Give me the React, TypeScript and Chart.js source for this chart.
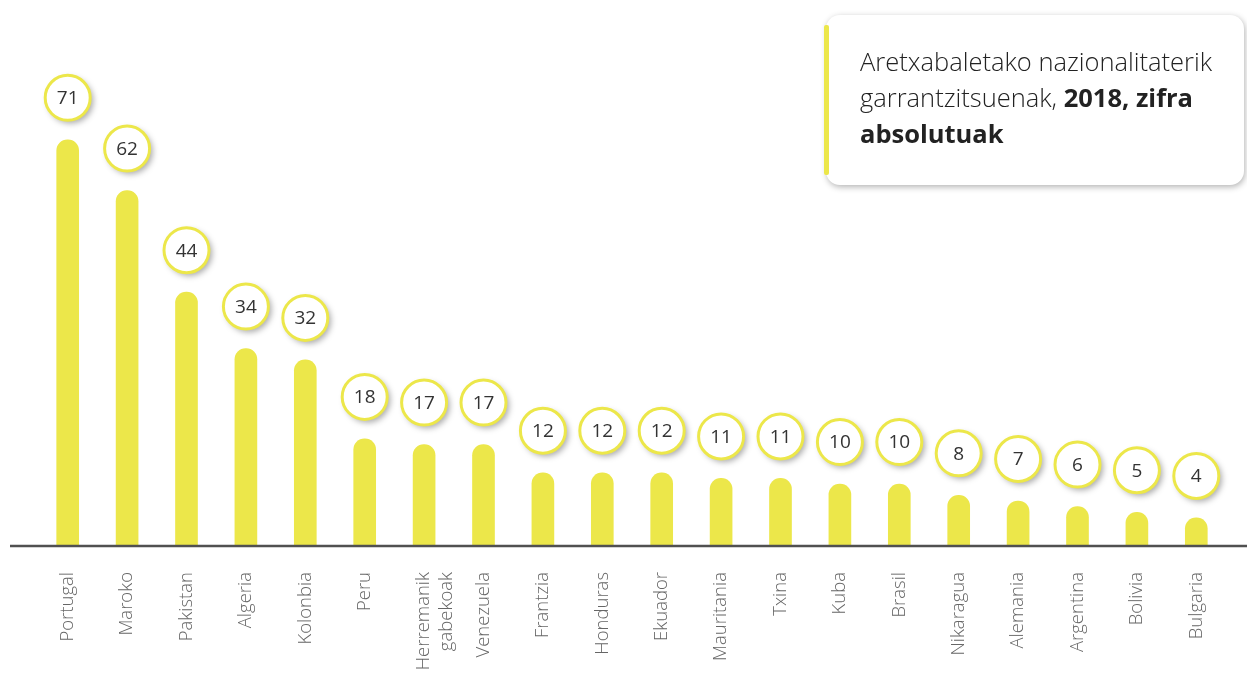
import React, { useEffect, useRef } from 'react';
import { Chart, registerables } from 'chart.js';

Chart.register(...registerables);

const categories: (string | string[])[] = [
  'Portugal', 'Maroko', 'Pakistan', 'Algeria', 'Kolonbia', 'Peru',
  ['Herremanik', 'gabekoak'], 'Venezuela', 'Frantzia', 'Honduras', 'Ekuador',
  'Mauritania', 'Txina', 'Kuba', 'Brasil', 'Nikaragua', 'Alemania',
  'Argentina', 'Bolivia', 'Bulgaria',
];
const values: number[] = [71, 62, 44, 34, 32, 18, 17, 17, 12, 12, 12, 11, 11, 10, 10, 8, 7, 6, 5, 4];
const titleNormal = 'Aretxabaletako nazionalitaterik garrantzitsuenak, ';
const titleBold1 = '2018, zifra';
const titleBold2 = 'absolutuak';

const YELLOW = '#ECE74A';
const BASE = -0.8;

const circlePlugin = {
  id: 'circles',
  afterDatasetsDraw(chart: any) {
    const ctx = chart.ctx;
    const meta = chart.getDatasetMeta(0);
    meta.data.forEach((bar: any, i: number) => {
      const x = bar.x;
      const y = bar.y - 42;
      const r = 22.5;
      ctx.save();
      ctx.shadowColor = 'rgba(0,0,0,0.35)';
      ctx.shadowBlur = 6;
      ctx.shadowOffsetX = 3;
      ctx.shadowOffsetY = 3;
      ctx.beginPath();
      ctx.arc(x, y, r, 0, Math.PI * 2);
      ctx.fillStyle = '#ffffff';
      ctx.fill();
      ctx.restore();
      ctx.save();
      ctx.beginPath();
      ctx.arc(x, y, r, 0, Math.PI * 2);
      ctx.lineWidth = 3;
      ctx.strokeStyle = YELLOW;
      ctx.stroke();
      ctx.fillStyle = '#333333';
      ctx.font = '400 19px "Open Sans", sans-serif';
      ctx.textAlign = 'center';
      ctx.textBaseline = 'middle';
      ctx.fillText(String(values[i]), x, y + 1);
      ctx.restore();
    });
  },
};

const axisLinePlugin = {
  id: 'axisLine',
  afterDatasetsDraw(chart: any) {
    const ctx = chart.ctx;
    const y = chart.chartArea.bottom + 1;
    ctx.save();
    ctx.beginPath();
    ctx.moveTo(10, y);
    ctx.lineTo(chart.width, y);
    ctx.lineWidth = 2.5;
    ctx.strokeStyle = '#505050';
    ctx.stroke();
    ctx.restore();
  },
};

export default function App() {
  const canvasRef = useRef<HTMLCanvasElement | null>(null);

  useEffect(() => {
    if (!canvasRef.current) return;
    const chart = new Chart(canvasRef.current, {
      type: 'bar',
      data: {
        labels: categories as any,
        datasets: [
          {
            data: values,
            base: BASE,
            backgroundColor: YELLOW,
            barThickness: 22,
            borderRadius: { topLeft: 11, topRight: 11, bottomLeft: 0, bottomRight: 0 },
            borderSkipped: false,
          } as any,
        ],
      },
      options: {
        animation: false,
        responsive: true,
        maintainAspectRatio: false,
        layout: { padding: { left: 38, right: 21, top: 89, bottom: 0 } },
        plugins: {
          legend: { display: false },
          tooltip: { enabled: false },
        },
        scales: {
          x: {
            grid: { display: false, drawTicks: false },
            border: { display: false },
            ticks: {
              maxRotation: 90,
              minRotation: 90,
              padding: 27,
              autoSkip: false,
              color: '#666666',
              font: { family: '"Open Sans", sans-serif', size: 18.5, weight: '300' as any, lineHeight: 1.25 },
            },
            afterFit(scale: any) {
              scale.height = 128;
            },
          },
          y: {
            display: false,
            min: BASE,
            max: 80,
          },
        },
      },
      plugins: [axisLinePlugin, circlePlugin],
    });
    return () => chart.destroy();
  }, []);

  return (
    <div style={{ position: 'fixed', left: 0, top: 0, width: 1247, height: 673, background: '#fff' }}>
      <canvas ref={canvasRef} />
      <div
        style={{
          position: 'absolute',
          left: 826,
          top: 15,
          width: 418,
          height: 170,
          background: '#fff',
          borderRadius: 14,
          boxShadow: '1px 2px 6px rgba(0,0,0,0.3)',
        }}
      >
        <div
          style={{
            position: 'absolute',
            left: -2,
            top: 10,
            width: 5,
            height: 150,
            background: YELLOW,
            borderRadius: 2,
          }}
        />
        <div
          style={{
            position: 'absolute',
            left: 34,
            top: 28,
            width: 384,
            whiteSpace: 'nowrap',
            fontFamily: '"Open Sans", sans-serif',
            fontWeight: 300,
            fontSize: 25.5,
            lineHeight: '36px',
            color: '#222',
          }}
        >
          Aretxabaletako nazionalitaterik
          <br />
          garrantzitsuenak, <b style={{ fontWeight: 700 }}>{titleBold1}</b>
          <br />
          <b style={{ fontWeight: 700 }}>{titleBold2}</b>
        </div>
      </div>
    </div>
  );
}
